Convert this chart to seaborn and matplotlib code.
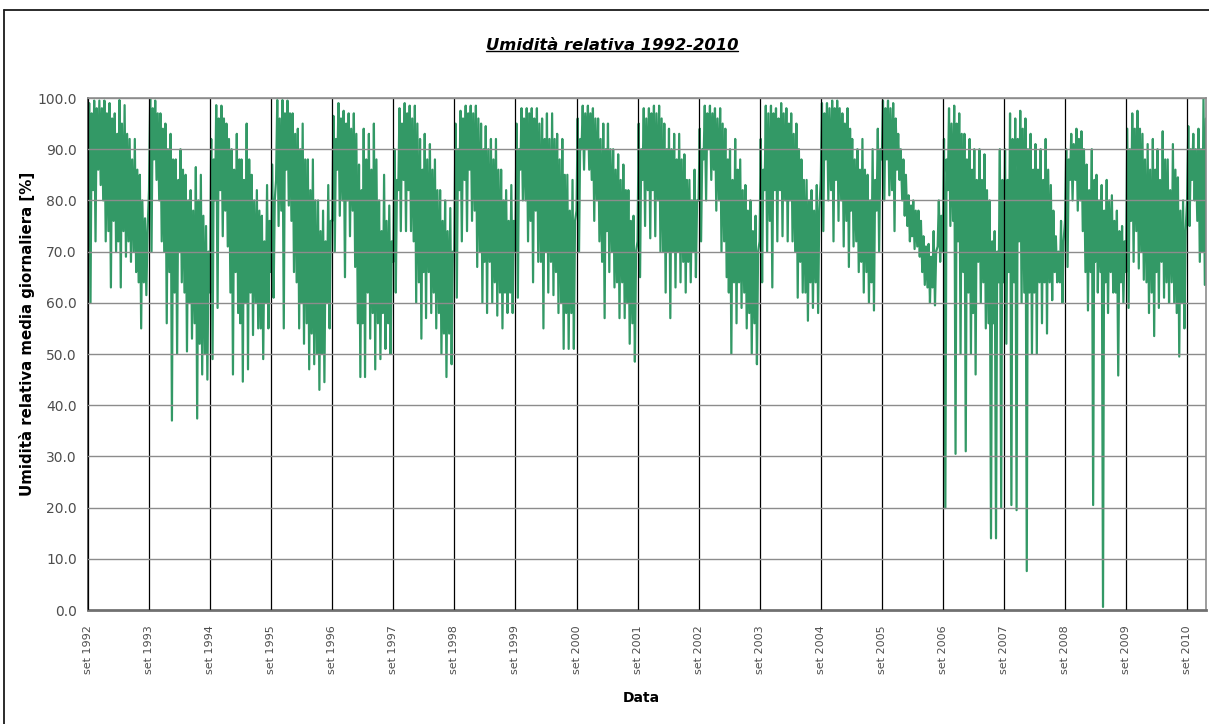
import numpy as np
import pandas as pd
import matplotlib
matplotlib.use("Agg")
import matplotlib.pyplot as plt
from matplotlib.lines import Line2D
import seaborn as sns

# Relative humidity (%) per month, hydrological years starting in September (Sep ... Aug).
# max_/min_ : extreme daily values of the month
# top_/low_ : upper and lower edge of the bulk of the daily values
max_1992 = [99, 99.5, 99.5, 99.5, 99, 97, 99.6, 98.6, 92, 92, 85, 76.5]
top_1992 = [97, 98, 98, 97, 96, 93, 95, 93, 88, 86, 80, 74]
low_1992 = [80, 82, 86, 80, 74, 76, 72, 74, 72, 70, 64, 64]
min_1992 = [60, 72, 83, 72, 63, 70, 63, 69, 68, 66, 55, 61.5]

max_1993 = [99.8, 99.5, 97, 95, 93, 88, 90, 85, 82, 86.5, 85, 75]
top_1993 = [98, 97, 94, 90, 88, 84, 86, 80, 78, 80, 77, 70]
low_1993 = [82, 88, 80, 70, 66, 62, 70, 62, 60, 56, 52, 50]
min_1993 = [70, 84, 72, 56, 37, 50, 64, 50.5, 53, 37.4, 46, 45]

max_1994 = [92, 98.6, 98.5, 95, 90, 93, 88, 95, 85, 82, 77, 83]
top_1994 = [88, 96, 96, 92, 86, 88, 84, 88, 80, 78, 72, 76]
low_1994 = [62, 80, 82, 78, 62, 66, 56, 60, 62, 60, 55, 60]
min_1994 = [49, 59, 73, 71, 46, 58, 44.6, 47, 53.7, 55, 49, 55]

max_1995 = [87, 99.6, 99.6, 99.5, 97, 94, 95, 88, 88, 80, 78, 83]
top_1995 = [80, 96, 97, 97, 93, 90, 88, 82, 80, 74, 72, 76]
low_1995 = [66, 84, 78, 86, 76, 64, 60, 56, 54, 50, 50, 60]
min_1995 = [61, 75, 55, 79, 66, 55, 52, 47, 48, 43, 44.5, 55]

max_1996 = [96.5, 99, 97.5, 97, 97, 87, 94, 93, 95, 80, 85, 79]
top_1996 = [92, 96, 95, 94, 93, 82, 88, 86, 88, 74, 76, 72]
low_1996 = [76, 86, 80, 80, 78, 56, 56, 62, 58, 56, 58, 56]
min_1996 = [70, 77, 65, 73, 67, 45.5, 45.5, 53, 47, 49, 51, 50]

max_1997 = [90, 98, 99, 98.5, 98.5, 92, 93, 91, 88, 82, 80, 78.5]
top_1997 = [84, 95, 97, 96, 95, 86, 88, 86, 82, 76, 74, 70]
low_1997 = [68, 82, 84, 82, 72, 64, 66, 66, 62, 58, 54, 54]
min_1997 = [62, 74, 74, 74, 60, 53, 57, 58, 55, 50, 45.5, 48]

max_1998 = [95, 97.5, 98.5, 98.5, 98.5, 95, 94.5, 92, 92, 86, 82, 83]
top_1998 = [90, 96, 97, 97, 96, 90, 90, 88, 86, 80, 76, 76]
low_1998 = [70, 82, 84, 86, 78, 70, 68, 68, 64, 62, 62, 62]
min_1998 = [61, 72, 74, 76, 67, 60, 58, 60, 57.5, 55, 58, 58]

max_1999 = [95, 98, 98, 98, 98, 96, 97, 97, 93, 92, 85, 84]
top_1999 = [90, 96, 97, 96, 95, 92, 92, 92, 88, 85, 78, 76]
low_1999 = [70, 86, 80, 76, 78, 68, 70, 68, 66, 60, 58, 58]
min_1999 = [61, 80, 72, 64, 68, 55, 62, 61.5, 58, 51, 51, 51]

max_2000 = [96, 98.5, 98.5, 98, 96, 95, 95, 90, 89, 87, 82, 77]
top_2000 = [92, 97, 97, 96, 92, 90, 90, 86, 84, 82, 76, 70]
low_2000 = [78, 90, 90, 84, 80, 68, 74, 70, 64, 64, 60, 56]
min_2000 = [70, 86, 86, 76, 72, 57, 66, 63, 57, 57, 52, 48.5]

max_2001 = [95, 98, 98, 98.5, 98.5, 95, 94, 93, 93, 89, 84, 86]
top_2001 = [90, 96, 97, 97, 96, 90, 90, 88, 88, 84, 80, 80]
low_2001 = [72, 84, 82, 82, 80, 70, 70, 70, 70, 68, 68, 70]
min_2001 = [65, 75, 72.6, 73, 70, 62, 57, 63, 64, 62, 64, 65]

max_2002 = [94, 98.5, 98.5, 98, 98, 94, 90, 92, 88, 83, 80, 77]
top_2002 = [90, 97, 97, 96, 95, 88, 84, 86, 82, 78, 74, 70]
low_2002 = [80, 88, 90, 86, 80, 72, 62, 64, 64, 62, 58, 56]
min_2002 = [72, 80, 84, 78, 70, 65, 50, 56, 59, 55, 50, 48]

max_2003 = [92, 98.5, 98.5, 98, 99, 98, 97, 95, 88, 84, 82, 83]
top_2003 = [86, 97, 97, 96, 97, 95, 93, 90, 84, 80, 78, 78]
low_2003 = [72, 82, 76, 82, 82, 80, 80, 70, 68, 62, 64, 64]
min_2003 = [64, 70, 63, 72, 73, 72, 72, 61, 62, 56.5, 59, 58]

max_2004 = [99, 99, 99.5, 99.5, 97, 98, 92, 90, 92, 85, 90, 94]
top_2004 = [97, 98, 98, 98, 95, 94, 88, 86, 86, 80, 84, 90]
low_2004 = [84, 88, 82, 84, 80, 76, 78, 72, 68, 66, 64, 78]
min_2004 = [74, 80, 72, 76, 71, 67, 71, 66, 62, 60, 58.5, 70]

max_2005 = [99.5, 99.5, 99, 93, 88, 81, 80, 78, 73, 71.5, 74, 80]
top_2005 = [98, 98, 96, 90, 85, 79, 78, 76, 71, 69, 70, 77]
low_2005 = [88, 88, 82, 86, 80, 75, 73, 71, 66, 63, 63, 71]
min_2005 = [80, 81, 74, 84, 77, 72, 70.5, 69, 63.5, 60, 59.5, 68]

max_2006 = [92, 98, 98.5, 97, 93, 92, 90, 90, 89, 80, 74, 90]
top_2006 = [88, 95, 95, 93, 88, 86, 84, 84, 82, 72, 70, 84]
low_2006 = [70, 82, 76, 72, 66, 62, 58, 68, 64, 56, 56, 64]
min_2006 = [19.9, 75, 30.5, 50, 31, 50, 46, 60, 55, 14, 14, 20]

max_2007 = [90, 97, 96, 97.5, 96, 93, 91, 90, 92, 83, 73, 76]
top_2007 = [84, 92, 92, 94, 90, 86, 86, 84, 86, 78, 70, 72]
low_2007 = [64, 66, 64, 72, 62, 62, 62, 64, 64, 64, 66, 64]
min_2007 = [52, 20.5, 19.5, 60, 7.6, 50, 50, 56, 54, 60.5, 64, 60]

max_2008 = [90, 93, 94, 93.5, 87, 90, 85, 83, 84, 81, 78, 75]
top_2008 = [88, 91, 92, 90, 82, 84, 80, 78, 80, 76, 74, 72]
low_2008 = [76, 84, 84, 80, 66, 66, 68, 66, 64, 66, 62, 64]
min_2008 = [67, 80, 78, 74, 58.5, 20.5, 62, 0.6, 58, 62, 45.8, 60]

max_2009 = [94, 97, 97.5, 93, 91, 92, 90, 93.5, 88, 91, 84.5, 80]
top_2009 = [90, 94, 94, 88, 86, 86, 84, 88, 82, 86, 78, 74]
low_2009 = [66, 76, 74, 70, 64, 62, 66, 68, 64, 64, 58, 60]
min_2009 = [59, 68, 66.7, 64.5, 58, 53.5, 59, 61, 60, 60, 49.5, 55]

max_2010 = [94.5, 93, 94, 100]
top_2010 = [90, 90, 90, 96]
low_2010 = [80, 84, 76, 70]
min_2010 = [75, 80, 68, 63.5]

years = list(range(1992, 2011))
max_by_year = [max_1992, max_1993, max_1994, max_1995, max_1996, max_1997,
               max_1998, max_1999, max_2000, max_2001, max_2002, max_2003,
               max_2004, max_2005, max_2006, max_2007, max_2008, max_2009,
               max_2010]
top_by_year = [top_1992, top_1993, top_1994, top_1995, top_1996, top_1997,
               top_1998, top_1999, top_2000, top_2001, top_2002, top_2003,
               top_2004, top_2005, top_2006, top_2007, top_2008, top_2009,
               top_2010]
low_by_year = [low_1992, low_1993, low_1994, low_1995, low_1996, low_1997,
               low_1998, low_1999, low_2000, low_2001, low_2002, low_2003,
               low_2004, low_2005, low_2006, low_2007, low_2008, low_2009,
               low_2010]
min_by_year = [min_1992, min_1993, min_1994, min_1995, min_1996, min_1997,
               min_1998, min_1999, min_2000, min_2001, min_2002, min_2003,
               min_2004, min_2005, min_2006, min_2007, min_2008, min_2009,
               min_2010]

y_ticks = [0, 10, 20, 30, 40, 50, 60, 70, 80, 90, 100]
x_tick_labels = [f"set {y}" for y in years]

# Series: within each month the values alternate low/high on days 1, 8, 16 and 23
day_offsets = [0, 7, 15, 22]
dates, values = [], []
for yr, mx, tp, lw, mn in zip(years, max_by_year, top_by_year, low_by_year, min_by_year):
    start = pd.Timestamp(year=yr, month=9, day=1)
    for k in range(len(mx)):
        m0 = start + pd.DateOffset(months=k)
        for d, v in zip(day_offsets, (lw[k], mx[k], mn[k], tp[k])):
            dates.append(m0 + pd.Timedelta(days=d))
            values.append(v)
df = pd.DataFrame({"Data": dates, "UR": values})

sns.set_theme(style="white")
plt.rcParams["font.family"] = ["DejaVu Sans"]

W, H = 1209, 724
fig = plt.figure(figsize=(W / 100, H / 100), dpi=100)
fig.patch.set_facecolor("white")

ax_l, ax_r, ax_t, ax_b = 88, 1206, 98, 610
ax = fig.add_axes([ax_l / W, 1 - ax_b / H, (ax_r - ax_l) / W, (ax_b - ax_t) / H])

sns.lineplot(data=df, x="Data", y="UR", ax=ax, color="#339966",
             linewidth=1.6, estimator=None, sort=False, zorder=2)

ax.set_ylim(0, 100)
ax.set_xlim(pd.Timestamp("1992-09-01"), df["Data"].iloc[-1])

ax.set_yticks(y_ticks)
ax.set_yticklabels([f"{v:.1f}" for v in y_ticks], fontsize=10, color="#4d4d4d")
xt = [pd.Timestamp(f"{y}-09-01") for y in years]
ax.set_xticks(xt)
ax.set_xticklabels(x_tick_labels, rotation=90, fontsize=8, color="#4d4d4d")

ax.set_axisbelow(False)
ax.yaxis.grid(True, color="#8c8c8c", linewidth=1.0)
ax.xaxis.grid(True, color="black", linewidth=0.9)

ax.tick_params(axis="y", direction="out", length=4, width=1, color="#404040", pad=4)
ax.tick_params(axis="x", direction="out", length=5, width=1, color="#404040", pad=6)

for side in ["top", "right"]:
    ax.spines[side].set_color("#8c8c8c")
    ax.spines[side].set_linewidth(1.2)
ax.spines["left"].set_color("#404040")
ax.spines["left"].set_linewidth(1.2)
ax.spines["bottom"].set_color("#707070")
ax.spines["bottom"].set_linewidth(2.0)

ax.set_xlabel("")
ax.set_ylabel("")

fig.text(27 / W, 1 - 334 / H, "Umidità relativa media giornaliera [%]",
         rotation=90, ha="center", va="center", fontsize=10.8, fontweight="bold",
         color="black")
fig.text(641 / W, 1 - 698 / H, "Data", ha="center", va="center",
         fontsize=10, fontweight="bold", color="black")
title = fig.text(612 / W, 1 - 45 / H, "Umidità relativa 1992-2010",
                 ha="center", va="center", fontsize=11.8, fontweight="bold",
                 fontstyle="italic", color="black")

# outer frame (left and top edges)
frame_kw = dict(color="#1a1a1a", linewidth=1.3, transform=None)
fig.add_artist(Line2D([4, 4], [0, H - 10], **frame_kw))
fig.add_artist(Line2D([4, W], [H - 10, H - 10], **frame_kw))

# underline the title
fig.canvas.draw()
bb = title.get_window_extent(renderer=fig.canvas.get_renderer())
fig.add_artist(Line2D([bb.x0, bb.x1], [bb.y0 + 1.5, bb.y0 + 1.5],
                      color="black", linewidth=1.0, transform=None))

fig.savefig("out.png", dpi=100)
